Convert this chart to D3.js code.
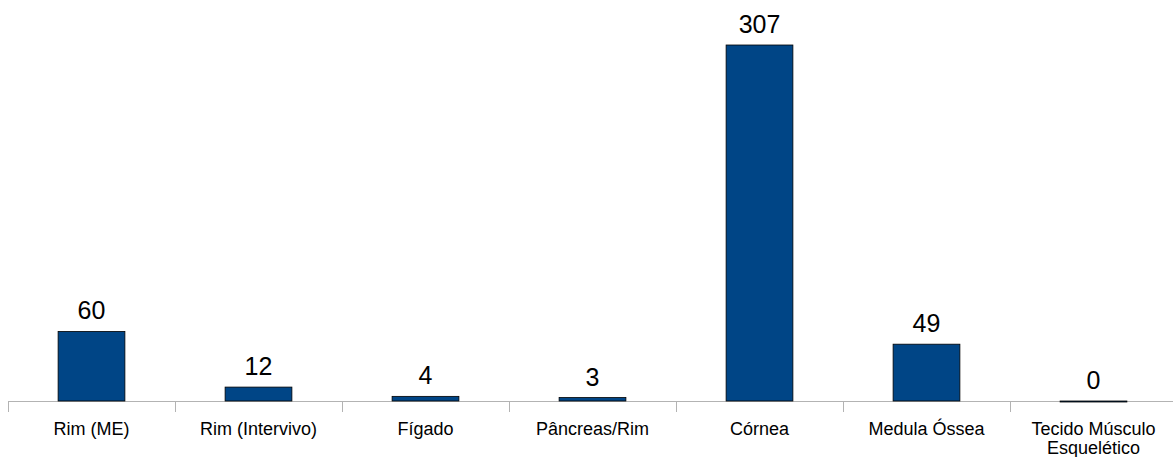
<!DOCTYPE html>
<html>
<head>
<meta charset="utf-8">
<script src="https://cdn.jsdelivr.net/npm/d3@7"></script>
<style>
  body { margin: 0; background: #fff; }
  text { font-family: "Liberation Sans", Arial, sans-serif; fill: #000; }
</style>
</head>
<body>
<svg id="main_svg" width="1173" height="457"></svg>
<script>
// data
let categories = ["Rim (ME)", "Rim (Intervivo)", "Fígado", "Pâncreas/Rim", "Córnea", "Medula Óssea", "Tecido Músculo\nEsquelético"]
let values = [60, 12, 4, 3, 307, 49, 0]

let svg = d3.select("#main_svg")
let baseY = 401

let x = d3.scaleBand()
    .domain(categories)
    .range([8, 1177])
    .padding(0)

let y = d3.scaleLinear()
    .domain([0, 307])
    .range([baseY, 45])

let barW = x.bandwidth() * 0.4

// axis line and tick marks at the band edges
svg.append("line")
    .attr("x1", 8).attr("x2", 1173)
    .attr("y1", baseY + 0.5).attr("y2", baseY + 0.5)
    .attr("stroke", "#b3b3b3").attr("stroke-width", 1)

let edges = categories.map(c => x(c)).concat([x(categories[categories.length - 1]) + x.bandwidth()])
svg.selectAll(".tick")
    .data(edges)
    .enter().append("line")
    .attr("x1", d => Math.round(d) + 0.5).attr("x2", d => Math.round(d) + 0.5)
    .attr("y1", baseY).attr("y2", baseY + 11)
    .attr("stroke", "#b3b3b3")

// bars
svg.selectAll(".bar")
    .data(values)
    .enter().append("rect")
    .attr("x", (d, i) => x(categories[i]) + (x.bandwidth() - barW) / 2)
    .attr("y", d => y(d))
    .attr("width", barW)
    .attr("height", d => Math.max(baseY - y(d), 1))
    .attr("fill", "#004586")
    .attr("stroke", "#000")
    .attr("stroke-width", 0.8)

// value labels
svg.selectAll(".val")
    .data(values)
    .enter().append("text")
    .attr("x", (d, i) => x(categories[i]) + x.bandwidth() / 2)
    .attr("y", d => y(d) - 12)
    .attr("text-anchor", "middle")
    .attr("font-size", 25)
    .text(d => d)

// category labels, split on newline
let cat = svg.selectAll(".cat")
    .data(categories)
    .enter().append("text")
    .attr("x", d => x(d) + x.bandwidth() / 2)
    .attr("y", 435)
    .attr("text-anchor", "middle")
    .attr("font-size", 18)

cat.each(function(d) {
    let lines = d.split("\n")
    let t = d3.select(this)
    lines.forEach((l, k) => {
        t.append("tspan")
            .attr("x", t.attr("x"))
            .attr("dy", k == 0 ? 0 : 19)
            .text(l)
    })
})
</script>
</body>
</html>
